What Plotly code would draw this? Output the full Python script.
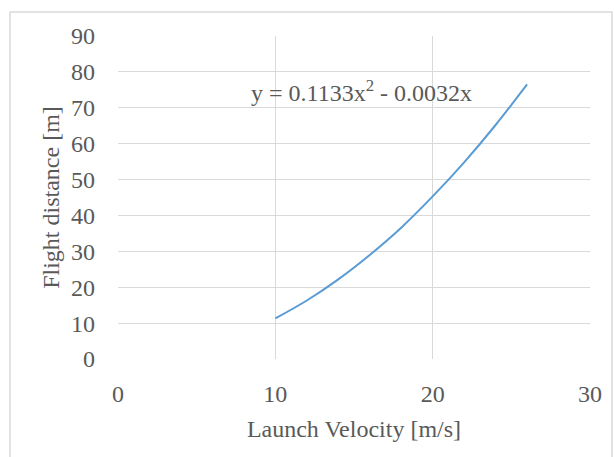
import plotly.graph_objects as go

# Values
velocity = [10, 12, 14, 16, 18, 20, 22, 24, 26]
distance = [11.3, 16.3, 22.2, 29.0, 36.6, 45.3, 54.8, 65.2, 76.5]
x_ticks = [0, 10, 20, 30]
y_ticks = [0, 10, 20, 30, 40, 50, 60, 70, 80, 90]
equation = "y = 0.1133x<sup>2</sup> - 0.0032x"

FONT = "Liberation Serif, Times New Roman, serif"
GREY = "#595959"
GRID = "#d9d9d9"
FS = 24

fig = go.Figure()
fig.add_trace(go.Scatter(
    x=velocity, y=distance, mode="lines",
    line=dict(color="#5b9bd5", width=2, shape="spline"),
    showlegend=False, hoverinfo="skip",
))

fig.add_annotation(
    x=15.5, y=74.8, xref="x", yref="y", text=equation, showarrow=False,
    font=dict(family=FONT, size=FS, color=GREY),
)

# outer chart border
fig.add_shape(type="rect", xref="paper", yref="paper",
              x0=-0.2288, x1=1.0466, y0=-0.32, y1=1.0743,
              line=dict(color="#d9d9d9", width=1.5), layer="below")

fig.update_layout(
    width=614, height=457,
    margin=dict(l=118, r=24, t=36, b=98),
    paper_bgcolor="white", plot_bgcolor="white",
    font=dict(family=FONT, size=FS, color=GREY),
    xaxis=dict(
        range=[0, 30], tickvals=x_ticks, showgrid=True, gridcolor=GRID,
        gridwidth=1, zeroline=False, showline=False, ticks="",
        ticklabelstandoff=18,
        title=dict(text="Launch Velocity [m/s]", standoff=14,
                   font=dict(family=FONT, size=FS, color=GREY)),
        tickfont=dict(family=FONT, size=FS, color=GREY),
    ),
    yaxis=dict(
        range=[0, 90], tickvals=y_ticks, showgrid=True, gridcolor=GRID,
        gridwidth=1, zeroline=False, showline=False, ticks="",
        ticklabelstandoff=22,
        title=dict(text="Flight distance [m]", standoff=4,
                   font=dict(family=FONT, size=FS, color=GREY)),
        tickfont=dict(family=FONT, size=FS, color=GREY),
    ),
)

fig.write_html("out.html")
